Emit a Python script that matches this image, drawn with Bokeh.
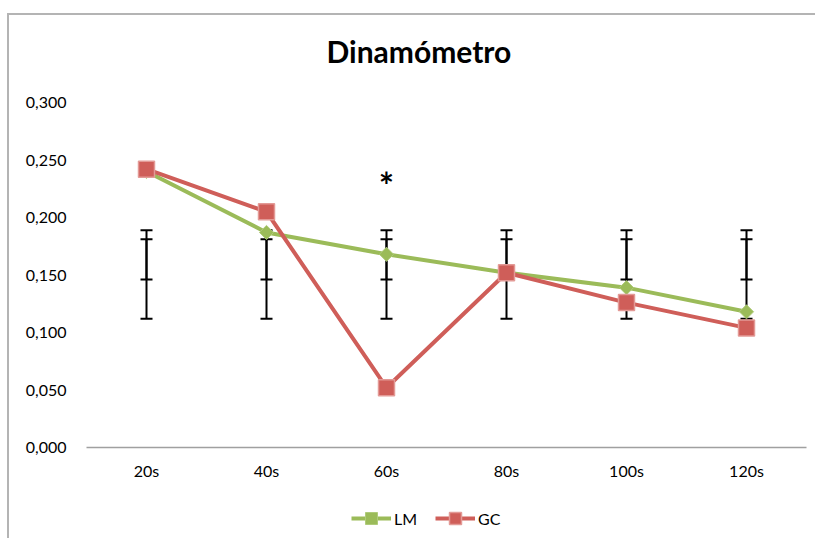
import math
from bokeh.plotting import figure
from bokeh.layouts import column
from bokeh.models import (FactorRange, Range1d, Whisker, TeeHead, Legend, LegendItem, Title,
                          CustomJSTickFormatter, FixedTicker, ColumnDataSource)
from bokeh.core.properties import value
from bokeh.embed import file_html
from bokeh.resources import INLINE

# ---- data ----
categories = ["20s", "40s", "60s", "80s", "100s", "120s"]
lm_values = [0.240, 0.187, 0.168, 0.152, 0.139, 0.118]
gc_values = [0.242, 0.205, 0.052, 0.152, 0.126, 0.104]
# error bars (two overlapping bars drawn at every category)
err_a_lower = [0.112, 0.112, 0.112, 0.112, 0.112, 0.112]
err_a_upper = [0.181, 0.181, 0.181, 0.181, 0.181, 0.181]
err_b_lower = [0.146, 0.146, 0.146, 0.146, 0.146, 0.146]
err_b_upper = [0.189, 0.189, 0.189, 0.189, 0.189, 0.189]
sig_categories = ["60s"]
sig_anchor = [0.189]
y_ticks = [0.0, 0.05, 0.10, 0.15, 0.20, 0.25, 0.30]

FONT = "Lato"
GREEN = "#9BBB59"
RED = "#CF5E59"

src = ColumnDataSource(dict(cat=categories, lm=lm_values, gc=gc_values,
                            a_lo=err_a_lower, a_hi=err_a_upper,
                            b_lo=err_b_lower, b_hi=err_b_upper))

xr = FactorRange(*categories)
p = figure(width=806, height=477, x_range=xr, title=None,
           y_range=Range1d(0, 0.3), output_backend="svg", toolbar_location=None,
           min_border_left=77, min_border_right=9, min_border_top=87, min_border_bottom=45)
p.outline_line_color = None
p.xgrid.grid_line_color = None
p.ygrid.grid_line_color = None
p.background_fill_color = "white"

# title (a thin spacer keeps it clear of the plot area)
p.add_layout(Title(text=" ", text_font_size="1px", standoff=30), "above")
p.add_layout(Title(text="Dinamómetro", text_font=FONT, text_font_size="30px",
                   text_font_style="bold", text_color="black", align="left",
                   offset=240, standoff=2), "above")

# axes
p.yaxis.ticker = FixedTicker(ticks=y_ticks)
p.yaxis.formatter = CustomJSTickFormatter(code="return tick.toFixed(3).replace('.', ',');")
p.yaxis.axis_line_color = None
p.yaxis.major_tick_line_color = None
p.yaxis.minor_tick_line_color = None
p.yaxis.major_label_standoff = 14
p.yaxis.major_label_text_font = FONT
p.yaxis.major_label_text_font_size = "16px"
p.yaxis.major_label_text_color = "black"

p.xaxis.axis_line_color = "#A0A0A0"
p.xaxis.axis_line_width = 1.5
p.xaxis.major_tick_line_color = None
p.xaxis.minor_tick_line_color = None
p.xaxis.major_label_standoff = 7
p.xaxis.major_label_text_font = FONT
p.xaxis.major_label_text_font_size = "16px"
p.xaxis.major_label_text_color = "black"

# error bars
for lo, hi in (("a_lo", "a_hi"), ("b_lo", "b_hi")):
    w = Whisker(source=src, base="cat", lower=lo, upper=hi, dimension="height",
                line_color="black", line_width=2, level="underlay",
                upper_head=TeeHead(size=12, line_color="black", line_width=2),
                lower_head=TeeHead(size=12, line_color="black", line_width=2))
    p.add_layout(w)

# series
line_lm = dict(line_color=GREEN, line_width=4)
pts_lm = dict(marker="square", angle=math.pi / 4, size=10,
              fill_color=GREEN, line_color="#AFCB7A", line_width=1)
line_gc = dict(line_color=RED, line_width=4)
pts_gc = dict(marker="square", size=16, fill_color=RED, line_color="#E39A96", line_width=1.5)

p.line("cat", "lm", source=src, **line_lm)
p.scatter("cat", "lm", source=src, **pts_lm)
p.line("cat", "gc", source=src, **line_gc)
p.scatter("cat", "gc", source=src, **pts_gc)

# significance marker
p.text(x=sig_categories, y=sig_anchor, text=["*"], text_font=value(FONT),
       text_font_size="36px", text_font_style="bold", text_color="black",
       text_align="center", text_baseline="middle", y_offset=-45)

# ---- legend strip below the chart ----
lg = figure(width=806, height=46, x_range=xr, y_range=Range1d(1, 2),
            x_axis_type=None, y_axis_type=None, output_backend="svg",
            toolbar_location=None, min_border=0)
lg.outline_line_color = None
lg.xgrid.grid_line_color = None
lg.ygrid.grid_line_color = None
lm_line = lg.line("cat", "lm", source=src, **line_lm)
lm_pts = lg.scatter("cat", "lm", source=src, **pts_lm)
gc_line = lg.line("cat", "gc", source=src, **line_gc)
gc_pts = lg.scatter("cat", "gc", source=src, **pts_gc)

legend = Legend(items=[LegendItem(label="LM", renderers=[lm_line, lm_pts]),
                       LegendItem(label="GC", renderers=[gc_line, gc_pts])],
                orientation="horizontal", location=(265, 5),
                glyph_width=40, glyph_height=30, label_standoff=3, spacing=18,
                label_text_font=FONT, label_text_font_size="16px",
                label_text_color="black", border_line_color=None,
                background_fill_alpha=0, margin=0, padding=2)
lg.add_layout(legend, "center")

layout = column(p, lg, spacing=0)
layout.styles = {"margin-top": "13px", "margin-left": "7px",
                 "border-top": "2px solid #B4B4B4", "border-left": "2px solid #B4B4B4"}

open("out.html", "w").write(file_html(layout, INLINE))
